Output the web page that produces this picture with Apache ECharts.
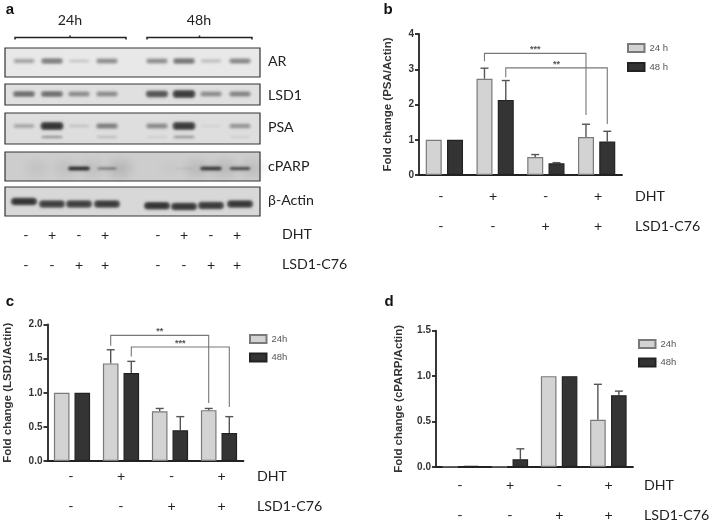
<!DOCTYPE html>
<html><head><meta charset="utf-8">
<style>html,body{margin:0;padding:0;background:#fff}#c{width:710px;height:525px}</style>
<script src="https://cdn.jsdelivr.net/npm/echarts@6/dist/echarts.min.js"></script>
</head><body><div id="c"></div>
<script>
// ---- data ----
const conditions = ['c1','c2','c3','c4'];
const dhtSigns = ['-','+','-','+'];
const lsdSigns = ['-','-','+','+'];

const psa24 = [1, 2.73, 0.51, 1.08];
const psa48 = [1, 2.13, 0.33, 0.95];
const psa24Top = [null, 3.03, 0.58, 1.44];
const psa48Top = [null, 2.68, 0.35, 1.24];

const lsd24 = [1, 1.43, 0.73, 0.745];
const lsd48 = [1, 1.29, 0.45, 0.41];
const lsd24Top = [null, 1.63, 0.77, 0.77];
const lsd48Top = [null, 1.46, 0.65, 0.65];

const parp24 = [0.003, 0.003, 1, 0.52];
const parp48 = [0.012, 0.085, 1, 0.79];
const parp24Top = [null, null, null, 0.91];
const parp48Top = [null, 0.2, null, 0.835];

// cat A, group A, cat B, group B, top, left end, right end, stars
const psaBrackets = [[1,0,3,0,3.45,3.23,1.7,'***'],[1,1,3,1,3.04,2.77,1.45,'**']];
const lsdBrackets = [[1,0,3,0,1.84,1.69,0.85,'**'],[1,1,3,1,1.67,1.53,0.79,'***']];

const psaTicks = ['0','1','2','3','4'];
const lsdTicks = ['0.0','0.5','1.0','1.5','2.0'];
const parpTicks = ['0.0','0.5','1.0','1.5'];

// blot band intensities per lane (- + - + for 24h, then 48h)
const blotNames = ['AR','LSD1','PSA','cPARP','β-Actin'];
const bandAR    = [.3,.5,.12,.42,.42,.55,.16,.45];
const bandLSD1  = [.6,.6,.42,.42,.75,.95,.42,.45];
const bandPSA   = [.25,1,.1,.48,.42,.95,.04,.36];
const bandPSA2  = [0,.32,0,.14,.06,.32,0,.06];
const bandPARP  = [0,0,1,.4,0,.06,.9,.75];
const bandActin = [1,.92,.92,.95,1,.97,.95,.97];
const smudgePARP = [.05,.06,.06,.12,.02,.1,.1,.08];

// ---- layout (pixels) ----
const laneX = [24,52,79,107,157,184,211,240];
const signXa = [26,52,79,105,158,184,211,237];
const frames = [[5,48,255,29,'#e8e8e8'],[5,84,255,21,'#e0e0e0'],[5,113,255,31,'#dedede'],[5,152,255,29,'#cdcdcd'],[5,187,255,29,'#d8d8d8']];
const bandY = [61,94,126,168.5,204];
const actinDy = [-2.5,0,0,0,1.7,2.5,1.5,0];
const labelY = [61,95,127,166,200];
const FAR = 2000;

const series = [], graphic = [];
const FONT = 'Lato, "Open Sans", sans-serif', ARIAL = '"Liberation Sans", Arial, sans-serif';
function txt(x,y,s,o){graphic.push({type:'text',x,y,silent:true,style:Object.assign({text:s,fill:'#222',font:'14.2px '+FONT,textAlign:'left',textVerticalAlign:'middle'},o||{})});}

// panel a frames
series.push({type:'custom',xAxisIndex:0,yAxisIndex:0,silent:true,z:1,animation:false,clip:false,
  data:frames.map(f=>[f[0],f[1],f[2],f[3]]),
  renderItem(p,api){const f=frames[p.dataIndex];const a=api.coord([f[0],f[1]]);
    return {type:'rect',shape:{x:a[0],y:a[1],width:f[2],height:f[3]},style:{fill:f[4],stroke:'#333',lineWidth:1.2}};}
});
// bands
const bandRows=[];
[bandAR,bandLSD1,bandPSA,bandPARP,bandActin].forEach((arr,b)=>arr.forEach((v,l)=>{ if(v>0) bandRows.push([laneX[l],bandY[b]+(b===4?actinDy[l]:0),v,b,0]); }));
bandPSA2.forEach((v,l)=>{ if(v>0) bandRows.push([laneX[l],bandY[2]+11,v,2,1]); });
smudgePARP.forEach((v,l)=>bandRows.push([laneX[l]+13,bandY[3],v,3,2]));
series.push({type:'custom',xAxisIndex:0,yAxisIndex:0,silent:true,z:2,animation:false,clip:false,
  encode:{x:0,y:1},data:bandRows,
  renderItem(p,api){
    const c=api.coord([api.value(0),api.value(1)]),v=api.value(2),b=api.value(3),k=api.value(4);
    const hw = k===2 ? 11 : (b===4?13:(b===3?9+v*2:10.5+v*1));
    const hh = k===2 ? 7 : (k===1?1.5:(b===4?3+v*.8:(b===3?1+v*1:1.8+v*2.2)));
    const blot=(w,h,a,blur)=>({type:'rect',shape:{x:c[0]-w-FAR,y:c[1]-h,width:2*w,height:2*h,r:h},
      style:{fill:'#000',shadowBlur:blur,shadowOffsetX:FAR,shadowColor:'rgba(20,20,20,'+a+')'}});
    if(k===2) return {type:'group',children:[blot(hw,hh,v,10)]};
    return {type:'group',children:[blot(hw,hh,.72*v,2.5),blot(hw*.8,hh*.5,.4*v,2)]};
  }
});
// panel a texts
blotNames.forEach((n,i)=>txt(268,labelY[i],n));
txt(70,20,'24h',{textAlign:'center'}); txt(199,20,'48h',{textAlign:'center'});
[[15,126,70],[147,252,199.5]].forEach(b=>{
  graphic.push({type:'polyline',silent:true,shape:{points:[[b[0],39.5],[b[0],37.5],[b[1],37.5],[b[1],39.5]]},style:{stroke:'#222',lineWidth:1.5,fill:null}});
  graphic.push({type:'line',silent:true,shape:{x1:b[2],y1:37.5,x2:b[2],y2:35.5},style:{stroke:'#222',lineWidth:1.5}});
});
const dhtA = dhtSigns.concat(dhtSigns), lsdA = lsdSigns.concat(lsdSigns);
signXa.forEach((x,i)=>{ txt(x,235,dhtA[i],{textAlign:'center'}); txt(x,265,lsdA[i],{textAlign:'center'}); });
txt(282,234.5,'DHT'); txt(282,264.5,'LSD1-C76');
// panel letters
[['a',10,10],['b',388,10],['c',10,302],['d',389,302]].forEach(l=>txt(l[1],l[2],l[0],{font:'bold 15px '+ARIAL,fill:'#111',textAlign:'center'}));

// bar panels
const panels = [
 {n:'PSA/Actin',a:psa24,b:psa48,at:psa24Top,bt:psa48Top,br:psaBrackets,ticks:psaTicks,max:4,iv:1,
  left:419,top:34,w:203,h:141,bw:16,pitch:21.3,gap:'33%',names:['24 h','48 h'],nameGap:25,
  legL:627,legT:43,legGap:9,sx:[441,493,545.7,598],sy:[196,226],lx:635},
 {n:'LSD1/Actin',a:lsd24,b:lsd48,at:lsd24Top,bt:lsd48Top,br:lsdBrackets,ticks:lsdTicks,max:2,iv:.5,
  left:47.5,top:324.5,w:196,h:136.5,bw:15.6,pitch:20.6,gap:'32%',names:['24h','48h'],nameGap:34,
  legL:249,legT:334,legGap:8.5,sx:[71,121,171.7,221.7],sy:[476,506],lx:257},
 {n:'cPARP/Actin',a:parp24,b:parp48,at:parp24Top,bt:parp48Top,br:[],ticks:parpTicks,max:1.5,iv:.5,
  left:436,top:330.7,w:197,h:136.3,bw:15.6,pitch:21,gap:'34%',names:['24h','48h'],nameGap:31,
  legL:638,legT:339,legGap:8.5,sx:[460,510,559.3,608.7],sy:[485.5,515],lx:644}
];
const grids=[{left:0,top:0,width:710,height:525,show:false}];
const xAxes=[{type:'value',gridIndex:0,min:0,max:710,show:false}];
const yAxes=[{type:'value',gridIndex:0,min:0,max:525,inverse:true,show:false}];
const legends=[];
panels.forEach((P,i)=>{
  const g=i+1;
  grids.push({left:P.left,top:P.top,width:P.w,height:P.h,show:false});
  xAxes.push({type:'category',gridIndex:g,data:conditions,boundaryGap:true,
    axisLine:{lineStyle:{color:'#222',width:1.8}},
    axisTick:{alignWithLabel:true,length:4,lineStyle:{color:'#222',width:1.8}},
    axisLabel:{show:false}});
  yAxes.push({type:'value',gridIndex:g,min:0,max:P.max,interval:P.iv,
    name:'Fold change ('+P.n+')',nameLocation:'middle',nameGap:P.nameGap,nameRotate:90,
    nameTextStyle:{fontFamily:ARIAL,fontSize:11.5,fontWeight:'bold',color:'#333'},
    splitLine:{show:false},
    axisLine:{show:true,lineStyle:{color:'#222',width:1.8}},
    axisTick:{show:true,length:4,lineStyle:{color:'#222',width:1.8}},
    axisLabel:{fontFamily:ARIAL,fontSize:10,fontWeight:'bold',color:'#333',margin:5,
      formatter:(v)=>P.ticks[Math.round(v/P.iv)]}});
  [[P.a,P.names[0],'#d3d3d3','#7a7a7a'],[P.b,P.names[1],'#343434','#222']].forEach(s=>{
    series.push({type:'bar',name:s[1],xAxisIndex:g,yAxisIndex:g,data:s[0],barWidth:P.bw,barGap:P.gap,z:3,animation:false,silent:true,
      itemStyle:{color:s[2],borderColor:s[3],borderWidth:1.2}});
  });
  // error bars
  const err=[];
  [P.at,P.bt].forEach((t,k)=>t.forEach((v,c)=>{ if(v!=null) err.push([c,v,k,(k?P.b:P.a)[c]]); }));
  series.push({type:'custom',xAxisIndex:g,yAxisIndex:g,silent:true,z:2,animation:false,encode:{x:0,y:1},data:err,
    renderItem(p,api){
      const off=(api.value(2)?1:-1)*P.pitch/2;
      const t=api.coord([api.value(0),api.value(1)]),b=api.coord([api.value(0),api.value(3)]);
      const x=t[0]+off,st={stroke:'#555',lineWidth:1.4};
      return {type:'group',children:[
        {type:'line',shape:{x1:x,y1:b[1],x2:x,y2:t[1]},style:st},
        {type:'line',shape:{x1:x-4,y1:t[1],x2:x+4,y2:t[1]},style:st}]};
    }});
  // significance brackets
  if(P.br.length) series.push({type:'custom',xAxisIndex:g,yAxisIndex:g,silent:true,z:4,animation:false,clip:false,encode:{x:0,y:4},
    data:P.br,
    renderItem(p,api){
      const d=P.br[p.dataIndex];
      const xa=api.coord([d[0],0])[0]+(d[1]?1:-1)*P.pitch/2, xb=api.coord([d[2],0])[0]+(d[3]?1:-1)*P.pitch/2;
      const yt=api.coord([0,d[4]])[1], yl=api.coord([0,d[5]])[1], yr=api.coord([0,d[6]])[1];
      return {type:'group',children:[
        {type:'polyline',shape:{points:[[xa,yl],[xa,yt],[xb,yt],[xb,yr]]},style:{stroke:'#777',lineWidth:1.1,fill:null}},
        {type:'text',style:{x:(xa+xb)/2,y:yt+1,text:d[7],fill:'#555',font:'bold 9px '+ARIAL,textAlign:'center',textVerticalAlign:'bottom'}}
      ]};
    }});
  legends.push({left:P.legL,top:P.legT,orient:'vertical',itemWidth:16.5,itemHeight:8,itemGap:P.legGap,data:P.names.map(n=>({name:n,icon:'rect'})),selectedMode:false,padding:0,
    textStyle:{fontFamily:ARIAL,fontSize:9.5,color:'#555'}});
  P.sx.forEach((x,k)=>{ txt(x,P.sy[0],dhtSigns[k],{textAlign:'center'}); txt(x,P.sy[1],lsdSigns[k],{textAlign:'center'}); });
  txt(P.lx,P.sy[0],'DHT'); txt(P.lx,P.sy[1],'LSD1-C76');
});

const chart=echarts.init(document.getElementById('c'),null,{renderer:'canvas'});
chart.setOption({animation:false,backgroundColor:'#fff',grid:grids,xAxis:xAxes,yAxis:yAxes,legend:legends,series,graphic:{elements:graphic},tooltip:{show:false}});
</script></body></html>
